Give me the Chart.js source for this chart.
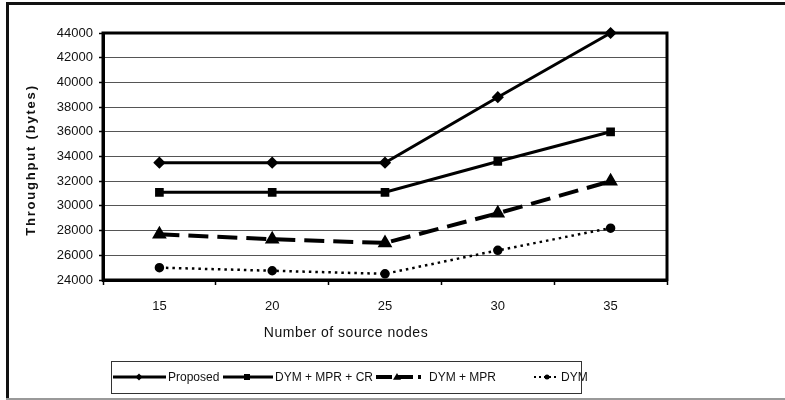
<!DOCTYPE html>
<html>
<head>
<meta charset="utf-8">
<script src="https://cdn.jsdelivr.net/npm/chart.js@4/dist/chart.umd.min.js"></script>
<style>
  html, body { margin: 0; padding: 0; background: #fff; }
  #wrap { width: 785px; height: 400px; position: relative; }
</style>
</head>
<body>
<div id="wrap"><canvas id="throughputChart" width="785" height="400"></canvas></div>
<script>
// Chart data
const nodeCounts = ['15', '20', '25', '30', '35'];
const proposed = [33500, 33500, 33500, 38800, 44000];
const dymMprCr = [31100, 31100, 31100, 33600, 36000];
const dymMpr = [27700, 27300, 27000, 29400, 32000];
const dym = [25000, 24750, 24500, 26400, 28200];
const yMin = 24000;
const yMax = 44000;
const yStep = 2000;
const seriesNames = ['Proposed', 'DYM + MPR + CR', 'DYM + MPR', 'DYM'];

const FONT = "'Liberation Sans', Arial, sans-serif";
Chart.defaults.font.family = FONT;
Chart.defaults.color = '#111';

function drawMarker(ctx, style, x, y, r) {
    ctx.save();
    ctx.fillStyle = '#000';
    ctx.beginPath();
    if (style === 'rectRot') {
        ctx.moveTo(x, y - r); ctx.lineTo(x + r, y); ctx.lineTo(x, y + r); ctx.lineTo(x - r, y);
    } else if (style === 'rect') {
        ctx.rect(x - r, y - r, 2 * r, 2 * r);
    } else if (style === 'triangle') {
        ctx.moveTo(x, y - r); ctx.lineTo(x + r, y + r * 0.7); ctx.lineTo(x - r, y + r * 0.7);
    } else {
        ctx.arc(x, y, r, 0, Math.PI * 2);
    }
    ctx.closePath();
    ctx.fill();
    ctx.restore();
}

// background, outer frame, plot frame, y title, legend
const decorPlugin = {
    id: 'decor',
    beforeDraw(chart) {
        const ctx = chart.ctx;
        ctx.save();
        ctx.fillStyle = '#fff';
        ctx.fillRect(0, 0, chart.width, chart.height);
        ctx.fillStyle = '#111';
        ctx.fillRect(6, 2, 3, 398);
        ctx.fillRect(6, 2, 779, 3);
        ctx.fillStyle = '#999';
        ctx.fillRect(6, 398, 779, 2);
        ctx.restore();
    },
    beforeDatasetsDraw(chart) {
        const ctx = chart.ctx;
        const a = chart.chartArea;
        ctx.save();
        ctx.strokeStyle = '#000';
        ctx.lineWidth = 3;
        ctx.strokeRect(a.left, a.top, a.right - a.left, a.bottom - a.top);
        ctx.restore();
    },
    afterDraw(chart) {
        const ctx = chart.ctx;
        ctx.save();
        // y axis title
        ctx.translate(31, 160);
        ctx.rotate(-Math.PI / 2);
        ctx.font = 'bold 13px ' + FONT;
        ctx.letterSpacing = '1.8px';
        ctx.fillStyle = '#111';
        ctx.textAlign = 'center';
        ctx.textBaseline = 'middle';
        ctx.fillText('Throughput (bytes)', 0, 0);
        ctx.restore();

        // x axis title
        ctx.save();
        ctx.font = '14px ' + FONT;
        ctx.letterSpacing = '0.5px';
        ctx.fillStyle = '#111';
        ctx.textAlign = 'center';
        ctx.textBaseline = 'middle';
        ctx.fillText('Number of source nodes', 346, 333);
        ctx.restore();

        // legend box
        ctx.save();
        ctx.strokeStyle = '#333';
        ctx.lineWidth = 1;
        ctx.strokeRect(111.5, 361.5, 470, 32);
        const cy = 377;
        const items = [
            { x0: 113, x1: 166, mx: 139, tx: 168, dash: [], w: 3, style: 'rectRot', r: 3.5 },
            { x0: 223, x1: 273, mx: 247, tx: 275, dash: [], w: 3, style: 'rect', r: 3 },
            { x0: 376, x1: 421, mx: 397, tx: 429, dash: [16, 5], w: 4, style: 'triangle', r: 4 },
            { x0: 534, x1: 559, mx: 547, tx: 561, dash: [2, 3], w: 2, style: 'circle', r: 2.5 }
        ];
        ctx.font = '12px ' + FONT;
        ctx.fillStyle = '#111';
        ctx.textBaseline = 'middle';
        ctx.textAlign = 'left';
        items.forEach((it, i) => {
            ctx.save();
            ctx.strokeStyle = '#000';
            ctx.lineWidth = it.w;
            ctx.setLineDash(it.dash);
            ctx.beginPath();
            ctx.moveTo(it.x0, cy);
            ctx.lineTo(it.x1, cy);
            ctx.stroke();
            ctx.restore();
            drawMarker(ctx, it.style, it.mx, cy, it.r);
            ctx.fillText(seriesNames[i], it.tx, cy + 1);
        });
        ctx.restore();
    }
};

const ctx = document.getElementById('throughputChart').getContext('2d');
new Chart(ctx, {
    type: 'line',
    data: {
        labels: nodeCounts,
        datasets: [{
            label: seriesNames[0],
            data: proposed,
            borderColor: '#000',
            backgroundColor: '#000',
            borderWidth: 3,
            pointStyle: 'rectRot',
            pointRadius: 4
        }, {
            label: seriesNames[1],
            data: dymMprCr,
            borderColor: '#000',
            backgroundColor: '#000',
            borderWidth: 3,
            pointStyle: 'rect',
            pointRadius: 4
        }, {
            label: seriesNames[2],
            data: dymMpr,
            borderColor: '#000',
            backgroundColor: '#000',
            borderWidth: 4,
            borderDash: [20, 9],
            pointStyle: 'triangle',
            pointRadius: 4.5
        }, {
            label: seriesNames[3],
            data: dym,
            borderColor: '#000',
            backgroundColor: '#000',
            borderWidth: 2.5,
            borderDash: [2.5, 4],
            pointStyle: 'circle',
            pointRadius: 3.5
        }]
    },
    options: {
        responsive: false,
        animation: false,
        clip: false,
        layout: { padding: { left: 0, top: 33, right: 118, bottom: 0 } },
        elements: { line: { tension: 0 }, point: { borderWidth: 0 } },
        plugins: {
            legend: { display: false },
            title: { display: false },
            tooltip: { enabled: false }
        },
        scales: {
            x: {
                type: 'category',
                offset: true,
                grid: {
                    offset: true,
                    drawOnChartArea: false,
                    drawTicks: true,
                    tickLength: 5,
                    tickColor: '#000',
                    tickWidth: 1.5
                },
                border: { display: true, color: '#000', width: 3 },
                ticks: {
                    color: '#111',
                    font: { size: 13 },
                    padding: 14,
                    maxRotation: 0
                },
                afterFit(scale) { scale.height = 120; }
            },
            y: {
                min: yMin,
                max: yMax,
                grid: {
                    color: '#555',
                    lineWidth: 1,
                    drawTicks: true,
                    tickLength: 4,
                    tickColor: '#000',
                    tickWidth: 1.5
                },
                border: { display: true, color: '#000', width: 3 },
                ticks: {
                    stepSize: yStep,
                    color: '#111',
                    font: { size: 13 },
                    padding: 6,
                    callback: v => String(v)
                },
                afterFit(scale) { scale.width = 103; }
            }
        }
    },
    plugins: [decorPlugin]
});
</script>
</body>
</html>
